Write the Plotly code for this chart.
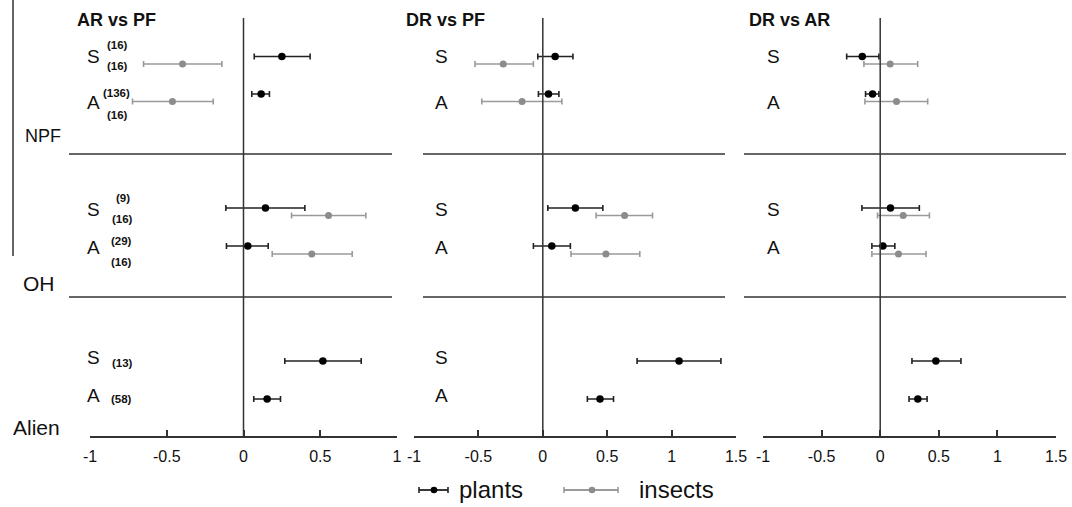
import plotly.graph_objects as go

# ---------------- data ----------------
comparisons = ["AR vs PF", "DR vs PF", "DR vs AR"]
plant_rows = ["NPF-S", "NPF-A", "OH-S", "OH-A", "Alien-S", "Alien-A"]
insect_rows = ["NPF-S", "NPF-A", "OH-S", "OH-A"]

# AR vs PF
ar_pf_plants_mean = [0.25, 0.115, 0.143, 0.028, 0.517, 0.154]
ar_pf_plants_lo = [0.07, 0.054, -0.115, -0.111, 0.269, 0.067]
ar_pf_plants_hi = [0.434, 0.169, 0.40, 0.161, 0.767, 0.241]
ar_pf_insects_mean = [-0.397, -0.463, 0.554, 0.445]
ar_pf_insects_lo = [-0.651, -0.723, 0.313, 0.187]
ar_pf_insects_hi = [-0.141, -0.197, 0.797, 0.708]

# DR vs PF
dr_pf_plants_mean = [0.096, 0.044, 0.253, 0.07, 1.058, 0.444]
dr_pf_plants_lo = [-0.039, -0.034, 0.039, -0.073, 0.732, 0.346]
dr_pf_plants_hi = [0.234, 0.125, 0.466, 0.214, 1.383, 0.549]
dr_pf_insects_mean = [-0.307, -0.161, 0.635, 0.49]
dr_pf_insects_lo = [-0.526, -0.474, 0.414, 0.219]
dr_pf_insects_hi = [-0.073, 0.148, 0.852, 0.753]

# DR vs AR
dr_ar_plants_mean = [-0.153, -0.065, 0.088, 0.023, 0.475, 0.321]
dr_ar_plants_lo = [-0.286, -0.125, -0.156, -0.071, 0.271, 0.246]
dr_ar_plants_hi = [-0.011, -0.011, 0.334, 0.125, 0.689, 0.40]
dr_ar_insects_mean = [0.085, 0.139, 0.196, 0.156]
dr_ar_insects_lo = [-0.139, -0.13, -0.023, -0.071]
dr_ar_insects_hi = [0.32, 0.405, 0.42, 0.391]

# sample sizes (AR vs PF panel)
n_plants = [16, 136, 9, 29, 13, 58]
n_insects = [16, 16, 16, 16]

groups = ["NPF", "OH", "Alien"]
tick_vals_1 = [-1, -0.5, 0, 0.5, 1]
tick_text_1 = ["-1", "-0.5", "0", "0.5", "1"]
tick_vals_23 = [-1, -0.5, 0, 0.5, 1, 1.5]
tick_text_23 = ["-1", "-0.5", "0", "0.5", "1", "1.5"]

# ---------------- layout constants (pixel positions) ----------------
W, H = 1072, 507
FONT = "Arial, Liberation Sans, sans-serif"
plant_y = [56.5, 94, 208, 246, 361, 399]
insect_y = [64, 101.5, 215.5, 254]
axis_y = 437
top_y = 18
PLANT_COL = "#000000"
PLANT_BAR = "#222222"
INSECT_COL = "#8c8c8c"
INSECT_BAR = "#9a9a9a"
AX_COL = "#333333"

panels = [
    dict(name=comparisons[0], dom=(90, 397), rng=[-1, 1], tv=tick_vals_1, tt=tick_text_1,
         pm=ar_pf_plants_mean, pl=ar_pf_plants_lo, ph=ar_pf_plants_hi,
         im=ar_pf_insects_mean, il=ar_pf_insects_lo, ih=ar_pf_insects_hi,
         title_x=75, sep=(69, 392), lab_x=85),
    dict(name=comparisons[1], dom=(414, 736), rng=[-1, 1.5], tv=tick_vals_23, tt=tick_text_23,
         pm=dr_pf_plants_mean, pl=dr_pf_plants_lo, ph=dr_pf_plants_hi,
         im=dr_pf_insects_mean, il=dr_pf_insects_lo, ih=dr_pf_insects_hi,
         title_x=404, sep=(423, 725), lab_x=433),
    dict(name=comparisons[2], dom=(763, 1056), rng=[-1, 1.5], tv=tick_vals_23, tt=tick_text_23,
         pm=dr_ar_plants_mean, pl=dr_ar_plants_lo, ph=dr_ar_plants_hi,
         im=dr_ar_insects_mean, il=dr_ar_insects_lo, ih=dr_ar_insects_hi,
         title_x=747, sep=(744, 1066), lab_x=765),
]

fig = go.Figure()
shapes = []
annotations = []


def px(x):
    return x / W


for i, p in enumerate(panels):
    xa = "x" if i == 0 else f"x{i+1}"
    axkey = "xaxis" if i == 0 else f"xaxis{i+1}"
    # insects first (behind)
    fig.add_trace(go.Scatter(
        x=p["im"], y=insect_y, xaxis=xa, yaxis="y", mode="markers",
        marker=dict(color=INSECT_COL, size=7),
        error_x=dict(type="data", symmetric=False,
                     array=[h - m for h, m in zip(p["ih"], p["im"])],
                     arrayminus=[m - l for m, l in zip(p["im"], p["il"])],
                     color=INSECT_BAR, thickness=1.6, width=3),
        showlegend=False, hoverinfo="x"))
    fig.add_trace(go.Scatter(
        x=p["pm"], y=plant_y, xaxis=xa, yaxis="y", mode="markers",
        marker=dict(color=PLANT_COL, size=7.5),
        error_x=dict(type="data", symmetric=False,
                     array=[h - m for h, m in zip(p["ph"], p["pm"])],
                     arrayminus=[m - l for m, l in zip(p["pm"], p["pl"])],
                     color=PLANT_BAR, thickness=1.6, width=3),
        showlegend=False, hoverinfo="x"))

    fig.update_layout(**{axkey: dict(
        domain=[px(p["dom"][0]), px(p["dom"][1])], range=p["rng"],
        anchor="free", position=(H - axis_y) / H, automargin=False,
        showline=True, linecolor=AX_COL, linewidth=1.5,
        ticks="inside", ticklen=6, tickwidth=1.5, tickcolor=AX_COL,
        tickvals=p["tv"], ticktext=p["tt"], ticklabelstandoff=5,
        tickfont=dict(family=FONT, size=16, color="#111"),
        showgrid=False, zeroline=False, fixedrange=True)})

    # zero line
    shapes.append(dict(type="line", xref=xa, yref="y", x0=0, x1=0, y0=top_y, y1=axis_y,
                       line=dict(color=AX_COL, width=1.5)))
    # group separators
    for sy in (154, 297):
        shapes.append(dict(type="line", xref="paper", yref="y",
                           x0=px(p["sep"][0]), x1=px(p["sep"][1]), y0=sy, y1=sy,
                           line=dict(color=AX_COL, width=1.5)))
    # panel title
    annotations.append(dict(text=f"<b>{p['name']}</b>", xref="paper", yref="y",
                            x=px(p["title_x"]), y=20, xanchor="left", yanchor="middle",
                            showarrow=False, font=dict(family=FONT, size=18, color="#111")))
    # S / A labels
    s_y = [56, 209, 357]
    a_y = [102, 247, 395]
    ngroups = 3 if i < 2 else 2
    for g in range(ngroups):
        annotations.append(dict(text="S", xref="paper", yref="y", x=px(p["lab_x"]), y=s_y[g],
                                xanchor="left", yanchor="middle", showarrow=False,
                                font=dict(family=FONT, size=19, color="#111")))
        annotations.append(dict(text="A", xref="paper", yref="y", x=px(p["lab_x"]), y=a_y[g],
                                xanchor="left", yanchor="middle", showarrow=False,
                                font=dict(family=FONT, size=19, color="#111")))

# sample size labels in first panel
n_plant_pos = [(105, 45), (101, 93), (114, 198), (109, 241), (110, 363), (109, 399)]
n_insect_pos = [(105, 66), (105, 115), (110, 219), (109, 262)]
for n, (xx, yy) in zip(n_plants, n_plant_pos):
    annotations.append(dict(text=f"<b>({n})</b>", xref="paper", yref="y", x=px(xx), y=yy,
                            xanchor="left", yanchor="middle", showarrow=False,
                            font=dict(family=FONT, size=11.5, color="#111")))
for n, (xx, yy) in zip(n_insects, n_insect_pos):
    annotations.append(dict(text=f"<b>({n})</b>", xref="paper", yref="y", x=px(xx), y=yy,
                            xanchor="left", yanchor="middle", showarrow=False,
                            font=dict(family=FONT, size=11.5, color="#111")))

# group labels
group_pos = [(23, 136, 18), (21, 283, 21), (11, 427, 21)]
for gname, (xx, yy, fs) in zip(groups, group_pos):
    annotations.append(dict(text=gname, xref="paper", yref="y", x=px(xx), y=yy,
                            xanchor="left", yanchor="middle", showarrow=False,
                            font=dict(family=FONT, size=fs, color="#111")))

# left vertical line
shapes.append(dict(type="line", xref="paper", yref="y", x0=px(13), x1=px(13), y0=0, y1=256,
                   line=dict(color=AX_COL, width=1.5)))

# legend (drawn manually)
legend_items = [("plants", 419, 448, 434, PLANT_COL, PLANT_BAR, 457),
                ("insects", 564, 618, 592, INSECT_COL, INSECT_BAR, 637)]
ly = 490
for label, x0, x1, xc, mc, bc, tx in legend_items:
    shapes.append(dict(type="line", xref="paper", yref="y", x0=px(x0), x1=px(x1), y0=ly, y1=ly,
                       line=dict(color=bc, width=1.8)))
    for xe in (x0, x1):
        shapes.append(dict(type="line", xref="paper", yref="y", x0=px(xe), x1=px(xe),
                           y0=ly - 3, y1=ly + 3, line=dict(color=bc, width=1.6)))
    shapes.append(dict(type="circle", xref="paper", yref="y", x0=px(xc - 3.3), x1=px(xc + 3.3),
                       y0=ly - 3.3, y1=ly + 3.3, fillcolor=mc, line=dict(color=mc, width=0)))
    annotations.append(dict(text=label, xref="paper", yref="y", x=px(tx), y=ly - 1,
                            xanchor="left", yanchor="middle", showarrow=False,
                            font=dict(family=FONT, size=24, color="#111")))

fig.update_layout(
    template="none",
    width=W, height=H, autosize=False,
    margin=dict(l=0, r=0, t=0, b=0, pad=0),
    paper_bgcolor="white", plot_bgcolor="white",
    yaxis=dict(domain=[0, 1], range=[H, 0], visible=False, fixedrange=True, automargin=False),
    shapes=shapes, annotations=annotations, showlegend=False,
)

fig.write_html("out.html",
               config={"displayModeBar": False, "responsive": False},
               post_script="document.body.style.margin='0';document.body.style.padding='0';"
                           "document.body.style.overflow='hidden';")
